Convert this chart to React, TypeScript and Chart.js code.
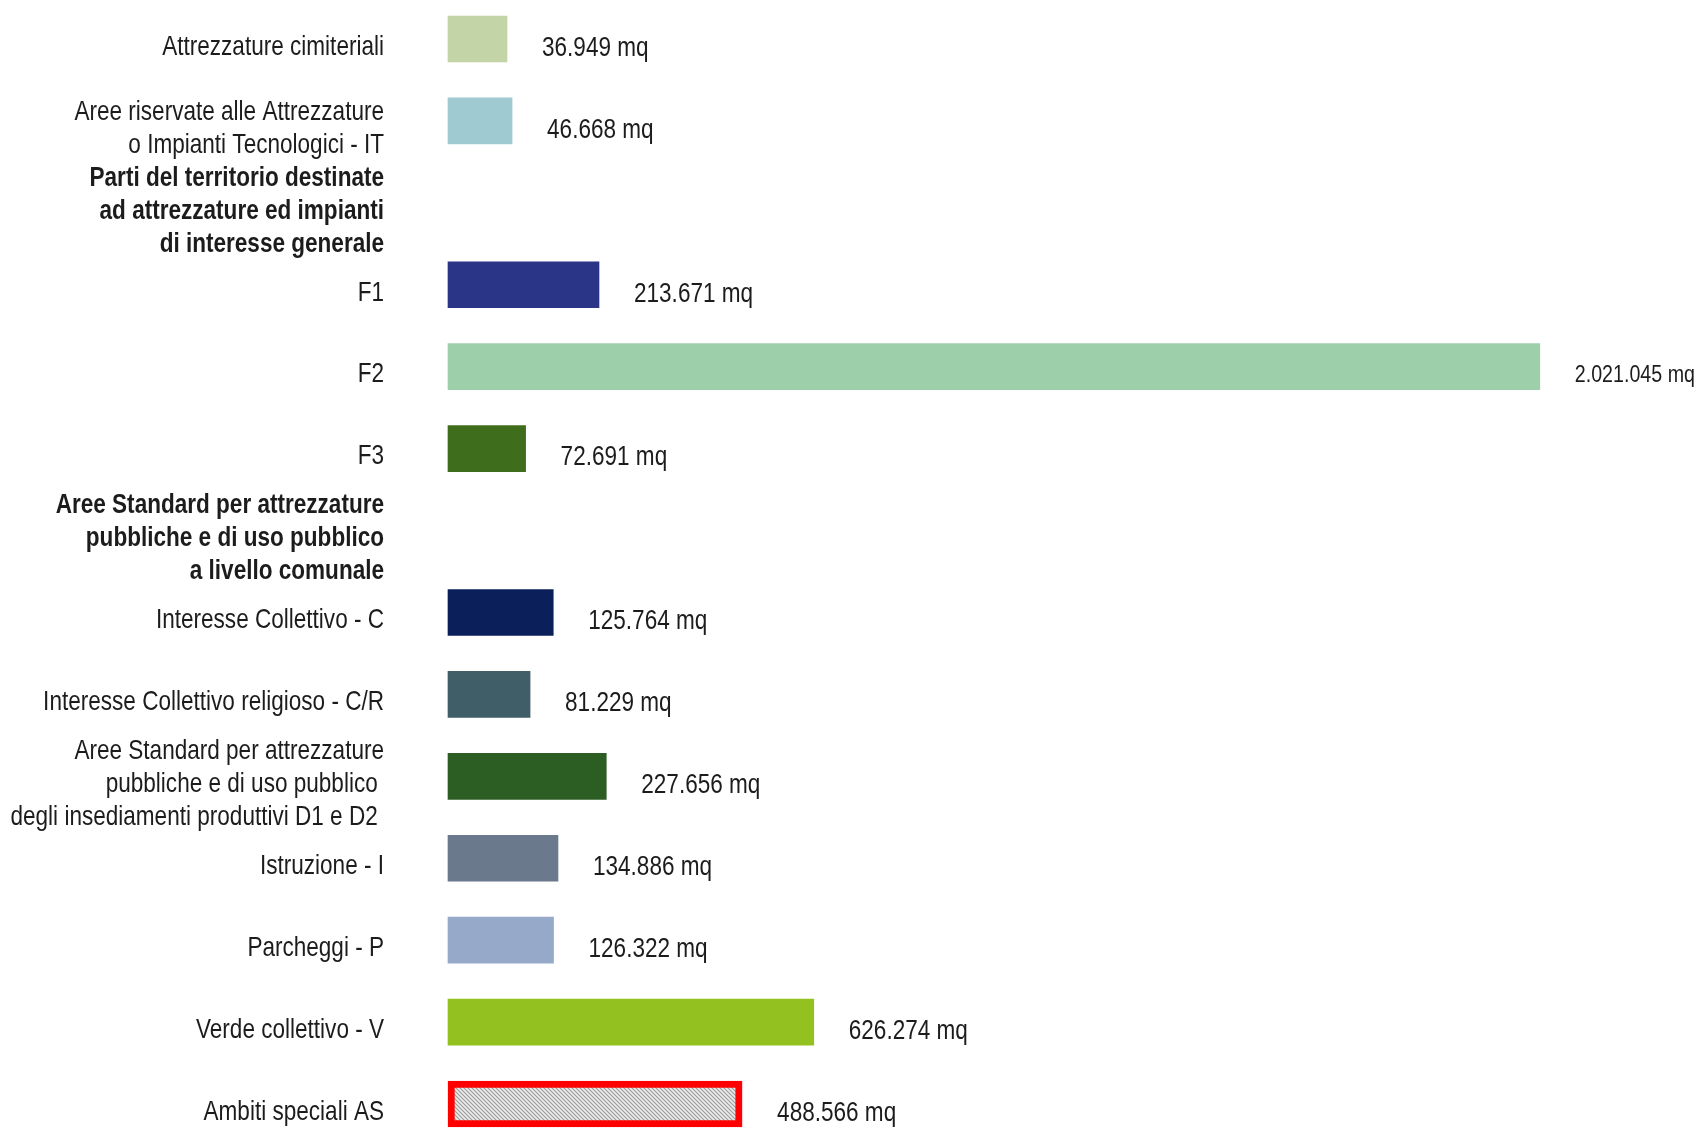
import React, { useEffect, useRef } from "react";
import { Chart, registerables } from "chart.js";

Chart.register(...registerables);

// Rows of the chart, top to bottom. Multi-line labels are arrays of lines.
const CATEGORIES: (string | string[])[] = [
  "Attrezzature cimiteriali",
  ["Aree riservate alle Attrezzature", "o Impianti Tecnologici - IT"],
  ["Parti del territorio destinate", "ad attrezzature ed impianti", "di interesse generale"],
  "F1",
  "F2",
  "F3",
  ["Aree Standard per attrezzature", "pubbliche e di uso pubblico", "a livello comunale"],
  "Interesse Collettivo - C",
  "Interesse Collettivo religioso - C/R",
  ["Aree Standard per attrezzature", "pubbliche e di uso pubblico ", "degli insediamenti produttivi D1 e D2 "],
  "Istruzione - I",
  "Parcheggi - P",
  "Verde collettivo - V",
  "Ambiti speciali AS",
];

// Surface of each zone in square metres (null for section headings).
const SURFACE_MQ: (number | null)[] = [
  36949, 46668, null, 213671, 2021045, 72691, null,
  125764, 81229, 227656, 134886, 126322, 626274, 488566,
];

// Rows that are section headings (drawn in bold, no bar).
const SECTION_ROWS: number[] = [2, 6];

// Rows drawn with a hatched fill and a red frame.
const HATCHED_ROWS: number[] = [13];

const BAR_COLORS: string[] = [
  "#c3d4a7", "#a0cad2", "#ffffff", "#2b3587", "#9dcfab", "#3e6e1c", "#ffffff",
  "#0b1f5b", "#405e68", "#2c5e23", "#6b798d", "#97a9c9", "#93c11f", "#d0d0d0",
];

// Value axis range; bars are drawn from the axis start.
const AXIS_START = -76400;
const AXIS_END = 2300000;

// Text: Liberation Sans squeezed horizontally to a narrow face.
const FONT_FAMILY = '"Liberation Sans", Arial, sans-serif';
const FONT_SIZE = 27.5;
const NARROW = 0.82;
const LINE_HEIGHT = 33;
const CAP_HALF = 9.8;
const TEXT_COLOR = "#1c1c1c";
const LABEL_GAP = 35;
const AXIS_LABEL_PADDING = 64;
const AXIS_WIDTH = 448;

function formatMq(v: number): string {
  return String(v).replace(/\B(?=(\d{3})+(?!\d))/g, ".") + " mq";
}

function makeHatch(): CanvasPattern | string {
  const tile = document.createElement("canvas");
  tile.width = 4;
  tile.height = 4;
  const c = tile.getContext("2d");
  if (!c) return "#cccccc";
  c.fillStyle = "#ececec";
  c.fillRect(0, 0, 4, 4);
  c.strokeStyle = "#9a9a9a";
  c.lineWidth = 1.1;
  c.beginPath();
  c.moveTo(-1, -1);
  c.lineTo(5, 5);
  c.moveTo(-1, 3);
  c.lineTo(1, 5);
  c.moveTo(3, -1);
  c.lineTo(5, 1);
  c.stroke();
  const p = c.createPattern(tile, "repeat");
  return p || "#cccccc";
}

function drawNarrowText(ctx: CanvasRenderingContext2D, text: string, x: number, y: number) {
  ctx.save();
  ctx.translate(x, y);
  ctx.scale(NARROW, 1);
  ctx.fillText(text, 0, 0);
  ctx.restore();
}

// Category names on the left, right-aligned against the value axis start.
const categoryLabels = {
  id: "categoryLabels",
  afterDraw(chart: any) {
    const { ctx } = chart;
    const scale = chart.scales.y;
    const xRight = scale.right - AXIS_LABEL_PADDING;
    ctx.save();
    ctx.fillStyle = TEXT_COLOR;
    ctx.textAlign = "right";
    ctx.textBaseline = "alphabetic";
    CATEGORIES.forEach((label, i) => {
      const lines = Array.isArray(label) ? label : [label];
      const bold = SECTION_ROWS.includes(i);
      ctx.font = `${bold ? "bold " : ""}${FONT_SIZE}px ${FONT_FAMILY}`;
      const cy = scale.getPixelForTick(i) + 6;
      lines.forEach((line, j) => {
        const y = cy + (j - (lines.length - 1) / 2) * LINE_HEIGHT + CAP_HALF;
        drawNarrowText(ctx, line, xRight, y);
      });
    });
    ctx.restore();
  },
};

// Surface values written just past the end of each bar.
const valueLabels = {
  id: "valueLabels",
  afterDatasetsDraw(chart: any) {
    const { ctx } = chart;
    const meta = chart.getDatasetMeta(0);
    ctx.save();
    ctx.fillStyle = TEXT_COLOR;
    ctx.textAlign = "left";
    ctx.textBaseline = "alphabetic";
    meta.data.forEach((bar: any, i: number) => {
      const v = SURFACE_MQ[i];
      if (v == null) return;
      const text = formatMq(v);
      const x = bar.x + LABEL_GAP;
      let size = FONT_SIZE;
      ctx.font = `${size}px ${FONT_FAMILY}`;
      const w = ctx.measureText(text).width * NARROW;
      const room = chart.width - x - 3;
      if (w > room) {
        size = (size * room) / w;
        ctx.font = `${size}px ${FONT_FAMILY}`;
      }
      drawNarrowText(ctx, text, x, bar.y + 7 + (CAP_HALF * size) / FONT_SIZE);
    });
    ctx.restore();
  },
};

export default function App() {
  const canvasRef = useRef<HTMLCanvasElement | null>(null);

  useEffect(() => {
    const canvas = canvasRef.current;
    if (!canvas) return;
    const hatch = makeHatch();

    const chart = new Chart(canvas, {
      type: "bar",
      data: {
        labels: CATEGORIES as any,
        datasets: [
          {
            data: SURFACE_MQ as any,
            base: AXIS_START,
            backgroundColor: BAR_COLORS.map((c, i) => (HATCHED_ROWS.includes(i) ? hatch : c)) as any,
            borderColor: BAR_COLORS.map((_, i) => (HATCHED_ROWS.includes(i) ? "#ff0000" : "rgba(0,0,0,0)")),
            borderWidth: BAR_COLORS.map((_, i) => (HATCHED_ROWS.includes(i) ? 7 : 0)),
            borderSkipped: false,
            barThickness: 46,
            clip: false as any,
          } as any,
        ],
      },
      options: {
        indexAxis: "y",
        responsive: false,
        animation: false,
        layout: { padding: { top: 39, bottom: 39, left: 0, right: 13 } },
        plugins: {
          legend: { display: false },
          tooltip: { enabled: false },
        },
        scales: {
          x: {
            type: "linear",
            display: false,
            min: AXIS_START,
            max: AXIS_END,
          },
          y: {
            type: "category",
            offset: false,
            grid: { display: false, drawTicks: false, tickLength: 0 },
            border: { display: false },
            ticks: { display: false, autoSkip: false },
            afterFit: (scale: any) => {
              scale.width = AXIS_WIDTH;
              scale.paddingTop = 0;
              scale.paddingBottom = 0;
            },
          },
        },
      } as any,
      plugins: [valueLabels, categoryLabels],
    });

    return () => chart.destroy();
  }, []);

  return (
    <div style={{ position: "absolute", left: 0, top: 0, width: 1698, height: 1143, background: "#ffffff" }}>
      <canvas ref={canvasRef} width={1698} height={1143} style={{ display: "block" }} />
    </div>
  );
}
